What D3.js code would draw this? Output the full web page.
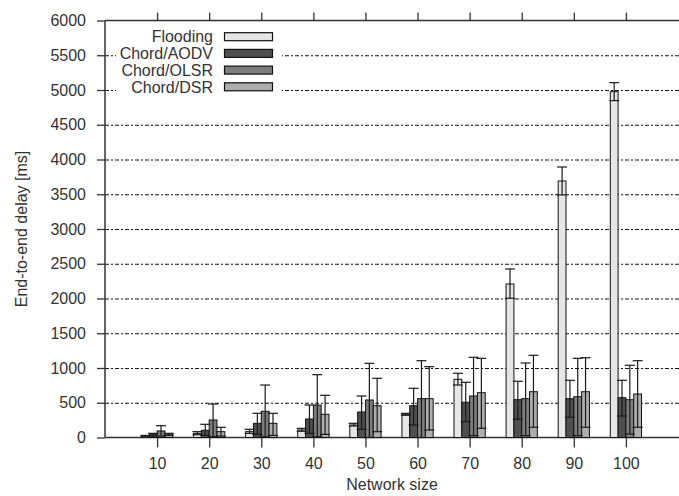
<!DOCTYPE html>
<html>
<head>
<meta charset="utf-8">
<script src="https://cdnjs.cloudflare.com/ajax/libs/d3/7.8.5/d3.min.js"></script>
<style>
    body { margin: 0; background: #fff; }
    svg { display: block; font-family: "Liberation Sans", Arial, sans-serif; }
    .domain { display: none; }
</style>
</head>
<body>
<div class="d3-graph"></div>
<script>
(function () {
    "use strict";

    // values (ms)
    var categories = [10, 20, 30, 40, 50, 60, 70, 80, 90, 100];
    var seriesNames = ['Flooding', 'Chord/AODV', 'Chord/OLSR', 'Chord/DSR'];
    var yTicks = [0, 500, 1000, 1500, 2000, 2500, 3000, 3500, 4000, 4500, 5000, 5500, 6000];

    var flooding = [20, 60, 84, 108, 180, 334, 837, 2209, 3691, 4976];
    var floodingLow = [5, 40, 60, 90, 165, 320, 755, 2003, 3490, 4847];
    var floodingHigh = [30, 84, 118, 132, 204, 348, 924, 2425, 3892, 5106];

    var aodv = [50, 104, 204, 266, 367, 458, 507, 544, 559, 573];
    var aodvLow = [20, 30, 45, 60, 118, 180, 228, 262, 291, 309];
    var aodvHigh = [60, 190, 348, 467, 597, 708, 794, 809, 823, 823];

    var olsr = [94, 252, 377, 467, 540, 559, 597, 559, 587, 544];
    var olsrLow = [20, 10, 10, 10, 0, 0, 26, 26, 26, 50];
    var olsrHigh = [170, 482, 755, 904, 1067, 1105, 1154, 1072, 1139, 1039];

    var dsr = [50, 84, 204, 334, 458, 559, 645, 659, 659, 626];
    var dsrLow = [30, 20, 30, 45, 84, 108, 132, 147, 147, 147];
    var dsrHigh = [60, 147, 348, 607, 852, 1019, 1139, 1183, 1148, 1105];

    var config = {
        width: 679,
        height: 496,
        margin: { top: 20.5, right: 1, bottom: 58.5, left: 105 },
        colors: ['#e6e6e6', '#4f4f4f', '#7d7d7d', '#adadad'],
        barWidth: 0.15,
        fontSize: 16
    };

    function drawChart() {
        var margin = config.margin;
        var fs = config.fontSize;
        var series = [
            { name: seriesNames[0], values: flooding, low: floodingLow, high: floodingHigh },
            { name: seriesNames[1], values: aodv, low: aodvLow, high: aodvHigh },
            { name: seriesNames[2], values: olsr, low: olsrLow, high: olsrHigh },
            { name: seriesNames[3], values: dsr, low: dsrLow, high: dsrHigh }
        ];

        var svg = d3.select('.d3-graph').html('').append('svg')
            .attr('width', config.width)
            .attr('height', config.height);

        var x = d3.scaleLinear()
            .domain([0, categories.length + 1])
            .range([margin.left, config.width - margin.right]);
        var y = d3.scaleLinear()
            .domain([0, 6000])
            .range([config.height - margin.bottom, margin.top]);
        var color = d3.scaleOrdinal().domain(seriesNames).range(config.colors);

        // dashed grid
        svg.append('g')
            .attr('class', 'grid')
            .attr('transform', 'translate(' + margin.left + ',0)')
            .call(d3.axisRight(y).tickValues(yTicks.slice(1, -1))
                .tickSize(config.width - margin.left).tickFormat(''))
            .selectAll('line')
            .attr('stroke', '#111')
            .attr('stroke-width', 1)
            .attr('stroke-dasharray', '4,2,2,2');

        // y axis
        var yAxis = svg.append('g')
            .attr('transform', 'translate(' + margin.left + ',0)')
            .call(d3.axisLeft(y).tickValues(yTicks).tickSize(8).tickPadding(11)
                .tickFormat(d3.format('d')));
        yAxis.selectAll('line').attr('stroke', '#333').attr('stroke-width', 1.3);
        yAxis.selectAll('text').attr('font-size', fs).attr('fill', '#333');

        // x axis bottom
        var xAxis = svg.append('g')
            .attr('transform', 'translate(0,' + y(0) + ')')
            .call(d3.axisBottom(x).tickValues(d3.range(1, categories.length + 1))
                .tickSize(10).tickPadding(10)
                .tickFormat(function (d) { return categories[d - 1]; }));
        xAxis.selectAll('line').attr('stroke', '#333').attr('stroke-width', 1.3);
        xAxis.selectAll('text').attr('font-size', fs).attr('fill', '#333');

        // x ticks on top
        svg.append('g')
            .attr('transform', 'translate(0,' + y(6000) + ')')
            .call(d3.axisTop(x).tickValues(d3.range(1, categories.length + 1))
                .tickSize(8).tickFormat(''))
            .selectAll('line').attr('stroke', '#333').attr('stroke-width', 1.3);

        // border lines
        var frame = svg.append('g').attr('stroke', '#333').attr('stroke-width', 1.5);
        frame.append('line')
            .attr('x1', x(0)).attr('x2', x(0))
            .attr('y1', y(6000)).attr('y2', y(0));
        frame.append('line')
            .attr('x1', x(0)).attr('x2', config.width)
            .attr('y1', y(0)).attr('y2', y(0));
        frame.append('line')
            .attr('x1', x(0)).attr('x2', config.width)
            .attr('y1', y(6000)).attr('y2', y(6000));

        // legend (white box over the grid)
        var legend = svg.append('g');
        legend.append('rect')
            .attr('x', 116).attr('y', 27)
            .attr('width', 166).attr('height', 70)
            .attr('fill', '#fff');
        var items = legend.selectAll('g.item')
            .data(seriesNames)
            .enter().append('g')
            .attr('transform', function (d, i) {
                return 'translate(0,' + (36.7 + i * 16.7) + ')';
            });
        items.append('text')
            .attr('x', 213).attr('dy', '0.36em')
            .attr('text-anchor', 'end')
            .attr('font-size', fs).attr('fill', '#333')
            .text(function (d) { return d; });
        items.append('rect')
            .attr('x', 224.5).attr('y', -4)
            .attr('width', 48).attr('height', 8)
            .attr('fill', function (d) { return color(d); })
            .attr('stroke', '#111').attr('stroke-width', 1.2);

        // bars
        var bw = x(config.barWidth) - x(0);
        function barLeft(s, i) {
            return x(i + 1 + (s - 2) * config.barWidth);
        }

        series.forEach(function (ser, s) {
            svg.append('g').selectAll('rect')
                .data(ser.values)
                .enter().append('rect')
                .attr('x', function (d, i) { return barLeft(s, i); })
                .attr('y', function (d) { return y(d); })
                .attr('width', bw)
                .attr('height', function (d) { return y(0) - y(d); })
                .attr('fill', color(ser.name))
                .attr('stroke', '#111')
                .attr('stroke-width', 1);
        });

        // error bars
        var capHalf = 5;
        series.forEach(function (ser, s) {
            var g = svg.append('g').attr('stroke', '#1a1a1a').attr('stroke-width', 1.2);
            ser.values.forEach(function (v, i) {
                var cx = barLeft(s, i) + bw / 2;
                g.append('line')
                    .attr('x1', cx).attr('x2', cx)
                    .attr('y1', y(ser.low[i])).attr('y2', y(ser.high[i]));
                g.append('line')
                    .attr('x1', cx - capHalf).attr('x2', cx + capHalf)
                    .attr('y1', y(ser.high[i])).attr('y2', y(ser.high[i]));
                g.append('line')
                    .attr('x1', cx - capHalf).attr('x2', cx + capHalf)
                    .attr('y1', y(ser.low[i])).attr('y2', y(ser.low[i]));
            });
        });

        // axis titles
        svg.append('text')
            .attr('x', (x(0) + config.width) / 2).attr('y', 490)
            .attr('text-anchor', 'middle')
            .attr('font-size', fs).attr('fill', '#333')
            .text('Network size');
        svg.append('text')
            .attr('transform', 'translate(27,' + (y(3000)) + ') rotate(-90)')
            .attr('text-anchor', 'middle')
            .attr('font-size', fs).attr('fill', '#333')
            .text('End-to-end delay [ms]');
    }

    drawChart();
})();
</script>
</body>
</html>
